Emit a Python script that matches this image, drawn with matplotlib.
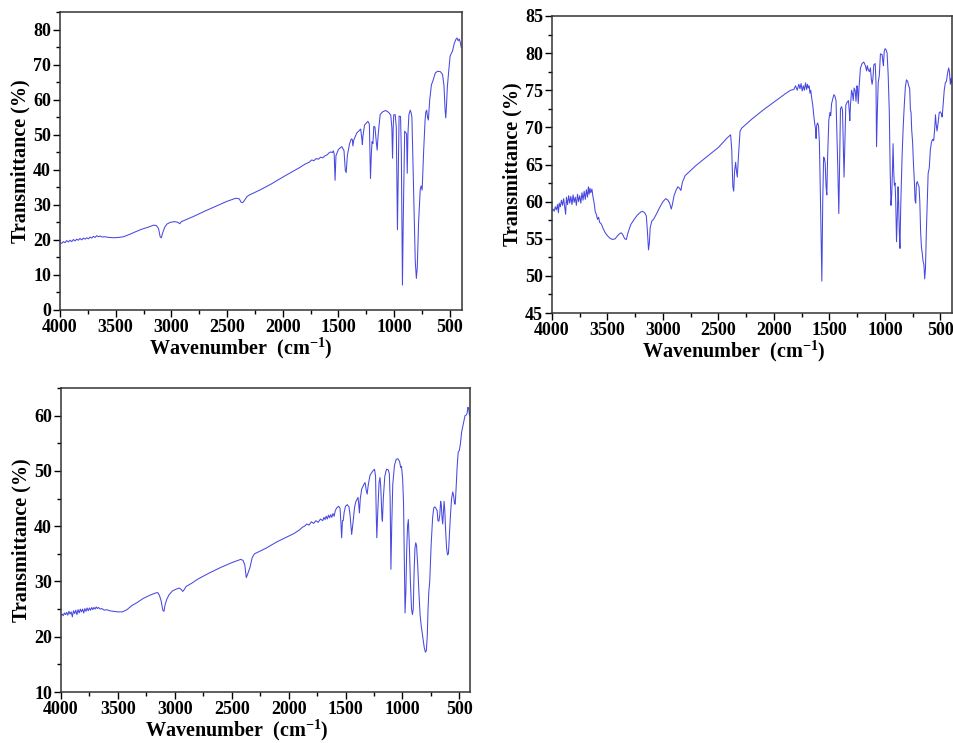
import numpy as np
import matplotlib.pyplot as plt
from matplotlib.ticker import MultipleLocator

plt.rcParams['font.family'] = ['Liberation Serif', 'DejaVu Serif']
plt.rcParams['font.weight'] = 'bold'
plt.rcParams['mathtext.fontset'] = 'custom'
plt.rcParams['mathtext.rm'] = 'Liberation Serif:bold'
plt.rcParams['mathtext.it'] = 'Liberation Serif:bold'
plt.rcParams['mathtext.bf'] = 'Liberation Serif:bold'

# FTIR spectrum, sample A (wavenumber cm-1, transmittance %)
wn_a = [4000, 3985, 3970, 3955, 3940, 3925, 3910, 3895, 3880, 3865, 3850, 3835, 3820, 3805,
        3790, 3775, 3760, 3745, 3730, 3715, 3700, 3685, 3670, 3655, 3640, 3620, 3600, 3560,
        3520, 3470, 3430, 3380, 3330, 3270, 3210, 3160, 3135, 3115, 3100, 3090, 3078, 3060,
        3040, 3010, 2970, 2940, 2925, 2910, 2880, 2800, 2700, 2600, 2500, 2420, 2390, 2375,
        2360, 2345, 2320, 2300, 2200, 2100, 2000, 1900, 1850, 1800, 1760, 1740, 1720, 1700,
        1680, 1660, 1640, 1620, 1600, 1585, 1570, 1555, 1545, 1538, 1530, 1522, 1500, 1470,
        1450, 1438, 1430, 1420, 1400, 1385, 1375, 1370, 1362, 1335, 1300, 1290, 1285, 1280,
        1265, 1235, 1222, 1212, 1205, 1198, 1190, 1182, 1172, 1160, 1152, 1143, 1125, 1100,
        1075, 1050, 1030, 1020, 1014, 1008, 1003, 990, 980, 970, 962, 955, 942, 935, 925,
        918, 905, 895, 888, 882, 876, 867, 855, 848, 840, 825, 810, 800, 792, 780, 765, 757,
        748, 735, 722, 715, 707, 700, 692, 680, 665, 650, 630, 610, 585, 565, 552, 542, 536,
        530, 522, 510, 497, 485, 476, 460, 445, 435, 425, 415, 405, 398]
t_a = [19.2, 19.0, 19.5, 19.2, 19.8, 19.4, 19.9, 19.5, 20.1, 19.7, 20.2, 19.9, 20.4, 20.0,
       20.5, 20.2, 20.6, 20.3, 20.8, 20.5, 21.0, 20.7, 21.2, 20.9, 21.1, 20.8, 20.9, 20.7,
       20.6, 20.7, 20.9, 21.5, 22.2, 23.0, 23.6, 24.2, 24.1, 23.2, 20.8, 20.6, 22.0, 23.6,
       24.5, 25.0, 25.2, 25.0, 24.6, 25.2, 25.6, 26.7, 28.2, 29.6, 31.0, 31.9, 31.7, 30.8,
       30.6, 31.2, 32.4, 32.8, 34.3, 36.0, 37.9, 39.7, 40.6, 41.6, 42.2, 42.8, 42.6, 43.2,
       43.0, 43.6, 43.4, 44.0, 44.3, 44.8, 45.1, 44.9, 45.4, 44.5, 37.0, 44.0, 45.8, 46.6,
       45.5, 39.8, 39.2, 44.0, 47.4, 48.8, 48.6, 46.8, 48.5, 50.5, 51.6, 49.0, 47.2, 49.5,
       52.8, 53.8, 53.0, 37.5, 44.0, 48.0, 47.5, 52.4, 52.2, 48.0, 45.6, 50.0, 55.8, 56.6,
       56.9, 56.4, 55.6, 52.0, 43.3, 52.0, 55.7, 55.7, 52.0, 22.9, 40.0, 55.3, 55.2, 45.0, 7.1,
       25.0, 51.0, 50.6, 50.2, 39.0, 50.0, 55.7, 57.0, 56.4, 55.0, 35.0, 14.0, 9.0, 12.0, 25.0,
       34.5, 35.4, 34.2, 45.0, 54.0, 56.5, 57.0, 55.0, 54.2, 60.0, 64.2, 65.5, 67.6, 68.1,
       68.0, 67.2, 64.0, 57.0, 54.8, 58.0, 63.5, 68.0, 72.4, 73.3, 73.8, 76.0, 77.2, 77.6,
       76.8, 77.3, 76.3, 75.0]

# FTIR spectrum, sample B
wn_b = [4000, 3990, 3980, 3970, 3960, 3950, 3942, 3935, 3925, 3915, 3905, 3895, 3885, 3877,
        3870, 3860, 3850, 3840, 3830, 3820, 3810, 3800, 3790, 3780, 3770, 3760, 3750, 3740,
        3730, 3720, 3710, 3700, 3690, 3680, 3672, 3665, 3658, 3650, 3640, 3630, 3620, 3610,
        3600, 3590, 3580, 3570, 3555, 3540, 3520, 3500, 3480, 3455, 3430, 3410, 3390, 3375,
        3360, 3345, 3330, 3315, 3290, 3260, 3230, 3200, 3185, 3165, 3150, 3140, 3130, 3122,
        3115, 3100, 3085, 3060, 3030, 3000, 2975, 2955, 2940, 2925, 2915, 2900, 2880, 2865,
        2850, 2838, 2825, 2800, 2700, 2600, 2500, 2420, 2390, 2380, 2370, 2362, 2355, 2345,
        2338, 2330, 2320, 2305, 2290, 2200, 2100, 2000, 1900, 1850, 1820, 1805, 1790, 1775,
        1765, 1755, 1745, 1735, 1725, 1715, 1705, 1698, 1690, 1682, 1675, 1668, 1660, 1650,
        1640, 1632, 1625, 1620, 1614, 1606, 1598, 1590, 1580, 1568, 1560, 1552, 1545, 1538,
        1530, 1523, 1516, 1505, 1495, 1488, 1480, 1470, 1460, 1450, 1440, 1425, 1415, 1408,
        1400, 1390, 1382, 1375, 1368, 1360, 1352, 1340, 1328, 1320, 1316, 1310, 1300, 1292,
        1285, 1277, 1268, 1260, 1252, 1246, 1240, 1232, 1220, 1205, 1190, 1175, 1165, 1158,
        1150, 1140, 1130, 1122, 1115, 1108, 1100, 1087, 1080, 1075, 1068, 1060, 1050, 1040,
        1025, 1018, 1013, 1006, 998, 988, 980, 970, 960, 952, 945, 938, 932, 926, 920, 914,
        908, 902, 895, 888, 881, 876, 870, 864, 856, 845, 835, 825, 815, 805, 795, 785, 776,
        770, 764, 758, 750, 742, 735, 728, 722, 716, 708, 700, 692, 685, 678, 670, 664, 656,
        648, 641, 634, 626, 618, 610, 600, 590, 580, 570, 560, 550, 544, 538, 530, 520, 510,
        500, 490, 484, 475, 465, 455, 445, 435, 425, 418, 410, 403, 397]
t_b = [58.8, 59.0, 58.7, 59.3, 58.9, 59.6, 58.5, 59.8, 59.3, 60.2, 59.5, 60.4, 59.2, 58.3,
       60.6, 59.6, 60.8, 59.8, 60.7, 59.6, 60.9, 59.9, 60.6, 59.5, 61.0, 60.0, 60.8, 59.8,
       61.2, 60.2, 61.4, 60.3, 61.6, 60.6, 62.0, 61.0, 61.8, 61.2, 61.7, 60.6, 59.8, 58.6,
       58.3, 57.6, 57.9, 57.2, 57.0, 56.4, 55.8, 55.4, 55.1, 54.9, 55.0, 55.4, 55.7, 55.8,
       55.5, 55.0, 54.9, 55.8, 56.9, 57.6, 58.2, 58.6, 58.7, 58.5, 58.1, 56.0, 53.5, 54.5,
       56.5, 57.4, 57.6, 58.3, 59.2, 60.0, 60.4, 60.2, 59.8, 59.0, 59.6, 60.8, 61.6, 62.0,
       61.8, 61.5, 62.6, 63.5, 64.9, 66.1, 67.3, 68.6, 69.0, 67.0, 62.0, 61.4, 64.0, 65.3,
       64.2, 63.3, 66.0, 69.5, 69.9, 71.1, 72.3, 73.4, 74.5, 75.0, 75.1, 75.6, 75.0, 75.8,
       75.2, 75.9, 74.9, 75.6, 75.0, 76.0, 75.1, 75.8, 75.3, 75.6, 74.6, 75.0, 74.0, 73.0,
       71.5, 70.5, 69.8, 68.5, 70.3, 70.6, 70.2, 68.0, 60.0, 49.3, 60.0, 66.0, 65.8, 65.2,
       62.0, 60.9, 66.0, 71.0, 72.0, 71.6, 73.2, 73.8, 74.4, 74.2, 73.6, 65.0, 58.4, 65.0,
       72.5, 72.8, 72.3, 68.0, 63.3, 68.0, 73.0, 73.4, 73.6, 72.0, 70.9, 73.0, 75.0, 74.5,
       73.6, 75.3, 75.0, 73.5, 75.6, 75.2, 73.2, 75.5, 78.0, 78.6, 78.8, 78.3, 77.6, 78.3,
       77.8, 77.5, 78.0, 76.5, 75.8, 76.5, 78.4, 78.6, 76.0, 67.4, 72.0, 76.0, 77.0, 79.9,
       79.8, 78.8, 78.3, 80.2, 80.6, 80.4, 80.0, 77.0, 72.0, 64.0, 59.5, 61.0, 64.0, 67.8,
       64.0, 62.2, 62.5, 60.0, 54.6, 58.0, 62.0, 60.0, 56.0, 53.7, 60.0, 66.0, 70.0, 73.0,
       75.5, 76.4, 76.2, 75.6, 75.2, 72.4, 72.0, 69.6, 68.0, 65.0, 63.0, 60.2, 59.8, 62.4,
       62.7, 62.3, 62.0, 60.0, 56.0, 53.8, 53.2, 52.0, 51.5, 49.6, 51.0, 56.0, 60.0, 63.8,
       64.5, 67.0, 68.0, 68.4, 68.2, 70.0, 71.7, 70.5, 69.5, 70.6, 72.0, 72.1, 71.8, 71.4,
       73.0, 75.0, 76.0, 76.2, 77.3, 78.0, 77.5, 75.8, 76.6, 76.0]

# FTIR spectrum, sample C
wn_c = [4000, 3990, 3980, 3970, 3960, 3950, 3940, 3930, 3920, 3910, 3900, 3890, 3880, 3870,
        3860, 3850, 3840, 3830, 3820, 3810, 3800, 3790, 3780, 3770, 3760, 3750, 3740, 3730,
        3720, 3710, 3700, 3690, 3680, 3670, 3655, 3640, 3620, 3600, 3570, 3540, 3500, 3460,
        3420, 3380, 3330, 3280, 3220, 3170, 3150, 3135, 3120, 3105, 3095, 3085, 3070, 3050,
        3020, 2990, 2960, 2945, 2930, 2918, 2900, 2850, 2800, 2700, 2600, 2500, 2420, 2400,
        2385, 2372, 2362, 2352, 2340, 2320, 2300, 2200, 2100, 2000, 1950, 1900, 1880, 1860,
        1840, 1820, 1800, 1780, 1760, 1740, 1720, 1700, 1690, 1680, 1670, 1660, 1650, 1640,
        1630, 1620, 1610, 1600, 1590, 1578, 1560, 1548, 1540, 1534, 1527, 1520, 1512, 1500,
        1485, 1470, 1460, 1446, 1435, 1420, 1408, 1390, 1384, 1378, 1370, 1358, 1340, 1328,
        1318, 1310, 1300, 1285, 1260, 1245, 1236, 1230, 1225, 1218, 1205, 1197, 1190, 1180,
        1176, 1168, 1155, 1140, 1125, 1115, 1108, 1101, 1094, 1085, 1070, 1055, 1040, 1025,
        1015, 1008, 998, 990, 983, 977, 970, 962, 955, 948, 940, 930, 920, 912, 905, 897, 890,
        883, 876, 866, 855, 845, 835, 820, 808, 798, 790, 782, 775, 768, 760, 748, 735, 725,
        715, 705, 695, 688, 680, 672, 664, 658, 652, 646, 640, 634, 628, 620, 612, 604, 596,
        588, 578, 568, 558, 550, 542, 536, 528, 520, 510, 500, 490, 480, 470, 460, 450, 440,
        432, 425, 418, 412, 407]
t_c = [23.9, 24.1, 23.8, 24.3, 24.0, 24.4, 23.9, 24.6, 24.1, 24.5, 23.6, 24.7, 24.2, 24.8,
       24.0, 24.9, 24.3, 25.0, 24.5, 25.0, 24.3, 25.1, 24.6, 25.2, 24.7, 25.2, 24.8, 25.3,
       24.9, 25.3, 25.0, 25.4, 25.1, 25.3, 25.0, 25.1, 24.8, 24.9, 24.7, 24.6, 24.5, 24.5,
       24.9, 25.6, 26.2, 26.9, 27.5, 27.9, 28.0, 27.5, 26.5, 24.8, 24.6, 25.8, 26.8, 27.6,
       28.3, 28.6, 28.8, 28.6, 28.2, 28.5, 29.1, 29.7, 30.4, 31.5, 32.5, 33.4, 34.0, 33.8,
       33.0, 30.7, 31.2, 31.8, 32.5, 34.3, 35.0, 36.0, 37.2, 38.2, 38.7, 39.4, 39.8, 40.0,
       40.4, 40.2, 40.8, 40.5, 41.0, 40.7, 41.3, 41.0, 41.6, 41.2, 41.8, 41.3, 42.0, 41.5,
       42.1, 41.6, 42.3, 41.8, 42.8, 43.3, 43.6, 43.2, 40.5, 37.9, 41.0, 41.0, 42.5, 43.6,
       43.9, 43.5, 42.0, 38.5, 40.5, 43.5, 44.5, 45.2, 44.0, 42.4, 45.0, 46.7, 47.5, 47.9,
       46.5, 45.8, 47.5, 49.2, 50.0, 50.3, 49.0, 42.0, 37.9, 42.0, 48.0, 48.8, 47.0, 41.5,
       40.9, 45.0, 49.0, 50.3, 50.2, 49.5, 45.0, 32.2, 40.0, 47.5, 51.0, 52.1, 52.2, 51.7,
       50.6, 50.8, 48.5, 44.0, 34.0, 24.3, 28.0, 36.0, 40.0, 41.2, 37.0, 30.0, 25.0, 24.0,
       25.0, 32.0, 36.0, 37.0, 36.5, 33.0, 28.0, 24.0, 22.0, 19.8, 18.0, 17.2, 17.5, 20.0,
       25.0, 28.2, 30.0, 36.5, 41.5, 43.3, 43.5, 43.2, 42.8, 41.0, 40.9, 42.0, 44.5, 43.8,
       41.5, 40.4, 42.5, 44.5, 43.0, 39.0, 36.0, 34.8, 35.0, 38.0, 42.0, 45.0, 46.2, 45.5,
       44.0, 44.0, 47.0, 50.5, 53.4, 53.7, 55.0, 57.0, 58.0, 59.0, 60.0, 60.1, 60.4, 61.5,
       61.3, 60.2, 60.0]

line_color = '#4848e0'


def spectrum(ax, wn, t, xlim, ylim, ymajor, yminor, xlab_pos):
    ax.plot(wn, t, color=line_color, lw=0.75)
    ax.set_xlim(*xlim)
    ax.set_ylim(*ylim)
    ax.xaxis.set_major_locator(MultipleLocator(500))
    ax.xaxis.set_minor_locator(MultipleLocator(250))
    ax.yaxis.set_major_locator(MultipleLocator(ymajor))
    ax.yaxis.set_minor_locator(MultipleLocator(yminor))
    ax.tick_params(which='both', direction='out', top=False, right=False,
                   width=1, labelsize=13, pad=1.5)
    ax.tick_params(which='major', length=5)
    ax.tick_params(which='minor', length=3)
    for s in ax.spines.values():
        s.set_linewidth(1.1)
        s.set_color('#333333')
    ax.set_xlabel('Wavenumber  (cm$^{-1}$)', fontsize=14.5, fontweight='bold', labelpad=-1)
    ax.xaxis.set_label_coords(xlab_pos, -0.085)
    ax.set_ylabel('Transmittance (%)', fontsize=14.5, fontweight='bold', labelpad=2)


fig = plt.figure(figsize=(9.54, 7.43), dpi=100)

ax1 = fig.add_axes([0.0629, 0.5828, 0.4214, 0.4010])
spectrum(ax1, wn_a, t_a, (4000, 390), (0, 85), 10, 5, 0.45)

ax2 = fig.add_axes([0.5786, 0.5787, 0.4193, 0.3998])
spectrum(ax2, wn_b, t_b, (4000, 395), (45, 85), 5, 2.5, 0.455)

ax3 = fig.add_axes([0.0639, 0.0686, 0.4288, 0.4092])
spectrum(ax3, wn_c, t_c, (4000, 406), (10, 65), 10, 5, 0.43)

fig.savefig('out.png', dpi=100)
